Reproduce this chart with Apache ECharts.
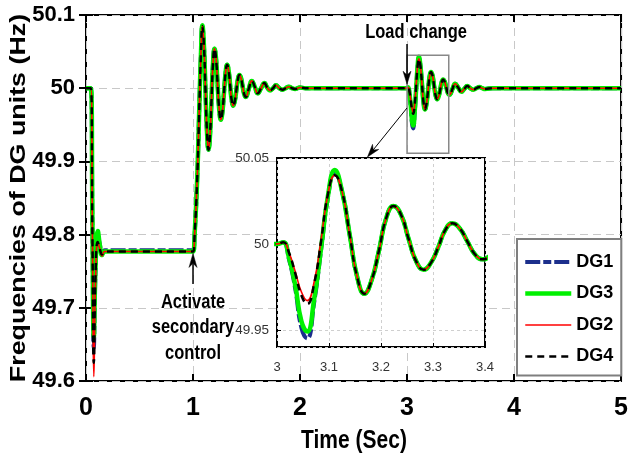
<!DOCTYPE html>
<html><head><meta charset="utf-8">
<script src="https://cdn.jsdelivr.net/npm/echarts@6/dist/echarts.min.js"></script>
<style>html,body{margin:0;padding:0;background:#fff}#c{width:631px;height:459px}</style>
</head><body><div id="c"></div>
<script>
// ---- data ----
const time = [0, 0.045, 0.06, 0.073, 0.09, 0.11, 0.13, 0.15, 0.175, 0.3,
  1.0, 1.015, 1.04, 1.06, 1.075, 1.087, 1.1015, 1.116, 1.1305, 1.145,
  1.159, 1.173, 1.187, 1.201, 1.2155, 1.23, 1.245, 1.26, 1.275, 1.29,
  1.3045, 1.319, 1.333, 1.347, 1.361, 1.375, 1.39, 1.405, 1.4195, 1.434,
  1.4485, 1.463, 1.478, 1.493,
  1.521, 1.549, 1.577, 1.605, 1.636, 1.667, 1.693, 1.72, 1.748, 1.775,
  1.806, 1.837, 1.866, 1.895, 1.925, 1.955, 2.0, 2.05, 2.1,
  3.0, 3.012, 3.023, 3.035, 3.047, 3.058, 3.0715, 3.085, 3.098, 3.111,
  3.1255, 3.14, 3.154, 3.168, 3.182, 3.196, 3.21, 3.224, 3.2385, 3.253,
  3.2675, 3.282, 3.296, 3.31, 3.3235, 3.337, 3.3515, 3.366, 3.3805, 3.395,
  3.409, 3.423, 3.45, 3.479, 3.508, 3.535, 3.563, 3.591, 3.62, 3.648,
  3.676, 3.703, 3.73, 3.8, 5.0];

const dg1 = [50.0, 50.0, 49.81, 49.645, 49.755, 49.80, 49.786, 49.776, 49.7785, 49.7785,
  49.7785, 49.80, 49.88, 49.98, 50.05, 50.085, 50.060, 50.0, 49.941, 49.916,
  49.936, 49.985, 50.034, 50.054, 50.040, 50.005, 49.971, 49.957, 49.968, 49.995,
  50.021, 50.032, 50.024, 50.004, 49.984, 49.976, 49.982, 49.997, 50.012, 50.018,
  50.014, 50.003, 49.992, 49.988,
  49.999, 50.010, 50.002, 49.993, 50.0, 50.007, 50.001, 49.997, 50.0, 50.004,
  50.0, 49.998, 50.0, 50.002, 50.0, 49.999, 50.001, 50.0, 50.0,
  50.0, 50.001, 49.991, 49.974, 49.951, 49.945, 49.966, 49.997, 50.027, 50.042,
  50.030, 50.005, 49.981, 49.971, 49.979, 49.996, 50.015, 50.022, 50.017, 50.003,
  49.990, 49.985, 49.989, 49.998, 50.008, 50.012, 50.009, 50.0015, 49.994, 49.991,
  49.993, 49.9985, 50.006, 50.0005, 49.995, 49.999, 50.003, 50.0, 49.998, 50.0,
  50.0015, 50.0, 49.999, 50.0, 50.0];

const dg3 = [50.0, 50.0, 49.82, 49.66, 49.76, 49.805, 49.785, 49.772, 49.777, 49.777,
  49.777, 49.80, 49.88, 49.98, 50.05, 50.086, 50.060, 50.0, 49.941, 49.916,
  49.936, 49.985, 50.034, 50.054, 50.040, 50.005, 49.971, 49.957, 49.968, 49.995,
  50.021, 50.032, 50.024, 50.004, 49.984, 49.976, 49.982, 49.997, 50.012, 50.018,
  50.014, 50.003, 49.992, 49.988,
  49.999, 50.010, 50.002, 49.993, 50.0, 50.007, 50.001, 49.997, 50.0, 50.004,
  50.0, 49.998, 50.0, 50.002, 50.0, 49.999, 50.001, 50.0, 50.0,
  50.0, 50.001, 49.992, 49.976, 49.955, 49.949, 49.968, 49.998, 50.028, 50.043,
  50.030, 50.005, 49.981, 49.971, 49.979, 49.996, 50.015, 50.022, 50.017, 50.003,
  49.990, 49.985, 49.989, 49.998, 50.008, 50.012, 50.009, 50.0015, 49.994, 49.991,
  49.993, 49.9985, 50.006, 50.0005, 49.995, 49.999, 50.003, 50.0, 49.998, 50.0,
  50.0015, 50.0, 49.999, 50.0, 50.0];

const dg2 = [50.0, 50.0, 49.80, 49.606, 49.74, 49.79, 49.78, 49.771, 49.777, 49.777,
  49.777, 49.80, 49.88, 49.98, 50.05, 50.085, 50.060, 50.0, 49.941, 49.916,
  49.936, 49.985, 50.034, 50.054, 50.040, 50.005, 49.971, 49.957, 49.968, 49.995,
  50.021, 50.032, 50.024, 50.004, 49.984, 49.976, 49.982, 49.997, 50.012, 50.018,
  50.014, 50.003, 49.992, 49.988,
  49.999, 50.010, 50.002, 49.993, 50.0, 50.007, 50.001, 49.997, 50.0, 50.004,
  50.0, 49.998, 50.0, 50.002, 50.0, 49.999, 50.001, 50.0, 50.0,
  50.0, 50.001, 49.995, 49.984, 49.972, 49.967, 49.978, 50.003, 50.029, 50.040,
  50.030, 50.005, 49.981, 49.971, 49.979, 49.996, 50.015, 50.022, 50.017, 50.003,
  49.990, 49.985, 49.989, 49.998, 50.008, 50.012, 50.009, 50.0015, 49.994, 49.991,
  49.993, 49.9985, 50.006, 50.0005, 49.995, 49.999, 50.003, 50.0, 49.998, 50.0,
  50.0015, 50.0, 49.999, 50.0, 50.0];

const dg4 = [50.0, 50.0, 49.80, 49.625, 49.75, 49.79, 49.78, 49.773, 49.777, 49.777,
  49.777, 49.80, 49.88, 49.98, 50.05, 50.085, 50.060, 50.0, 49.941, 49.916,
  49.936, 49.985, 50.034, 50.054, 50.040, 50.005, 49.971, 49.957, 49.968, 49.995,
  50.021, 50.032, 50.024, 50.004, 49.984, 49.976, 49.982, 49.997, 50.012, 50.018,
  50.014, 50.003, 49.992, 49.988,
  49.999, 50.010, 50.002, 49.993, 50.0, 50.007, 50.001, 49.997, 50.0, 50.004,
  50.0, 49.998, 50.0, 50.002, 50.0, 49.999, 50.001, 50.0, 50.0,
  50.0, 50.001, 49.995, 49.983, 49.970, 49.965, 49.977, 50.002, 50.029, 50.040,
  50.030, 50.005, 49.981, 49.971, 49.979, 49.996, 50.015, 50.022, 50.017, 50.003,
  49.990, 49.985, 49.989, 49.998, 50.008, 50.012, 50.009, 50.0015, 49.994, 49.991,
  49.993, 49.9985, 50.006, 50.0005, 49.995, 49.999, 50.003, 50.0, 49.998, 50.0,
  50.0015, 50.0, 49.999, 50.0, 50.0];

const seriesNames = ['DG1', 'DG3', 'DG2', 'DG4'];
const seriesValues = [dg1, dg3, dg2, dg4];

// ---- styles ----
const FONT = '"Liberation Sans", Arial, sans-serif';
const lineStyles = [
  { color: '#1c2f8c', width: 4, type: [15, 3, 8, 3] },
  { color: '#00f000', width: 4.5, type: 'solid' },
  { color: '#ff0000', width: 1.6, type: 'solid' },
  { color: '#000000', width: 2.5, type: [7, 5] }
];

const pairs = arr => time.map((t, i) => [t, arr[i]]);

const series = [];
seriesNames.forEach((n, i) => {
  series.push({ name: n, type: 'line', xAxisIndex: 0, yAxisIndex: 0, data: pairs(seriesValues[i]),
    showSymbol: false, symbol: 'none', smooth: 0.5, lineStyle: lineStyles[i], color: lineStyles[i].color,
    z: 2, animation: false });
});
seriesNames.forEach((n, i) => {
  series.push({ name: n, type: 'line', xAxisIndex: 1, yAxisIndex: 1, data: pairs(seriesValues[i]),
    showSymbol: false, symbol: 'none', smooth: 0.5, lineStyle: lineStyles[i], color: lineStyles[i].color,
    z: 5, clip: true, animation: false });
});

const mainSplit = { show: true, lineStyle: { color: '#c8c8c8', width: 1, type: [8, 5] } };
const insetSplit = { show: true, lineStyle: { color: '#cfcfcf', width: 1, type: [3, 3] } };
const mainTick = { show: true, inside: true, length: 7, lineStyle: { color: '#000', width: 2 } };
const insetTick = { show: true, inside: true, length: 4, lineStyle: { color: '#000', width: 1 } };

const option = {
  animation: false,
  backgroundColor: '#fff',
  grid: [
    { left: 86, top: 15, width: 537, height: 366, show: true, borderColor: '#000', borderWidth: 2, backgroundColor: 'transparent' },
    { left: 277, top: 158, width: 208, height: 189, show: true, borderColor: '#000', borderWidth: 2, backgroundColor: '#fff', z: 3 }
  ],
  xAxis: [
    { type: 'value', gridIndex: 0, min: 0, max: 5, interval: 1, axisLine: { show: false }, axisTick: mainTick,
      axisLabel: { fontFamily: FONT, fontWeight: 'bold', fontSize: 25, color: '#000', margin: 15 }, splitLine: mainSplit },
    { type: 'value', gridIndex: 1, min: 3, max: 3.4, interval: 0.1, axisLine: { show: false }, axisTick: insetTick,
      axisLabel: { fontFamily: FONT, fontSize: 13, color: '#333', margin: 14 }, splitLine: insetSplit, z: 4 },
    { type: 'value', gridIndex: 0, position: 'top', min: 0, max: 5, interval: 1, axisLine: { show: false }, axisTick: mainTick,
      axisLabel: { show: false }, splitLine: { show: false } }
  ],
  yAxis: [
    { type: 'value', gridIndex: 0, min: 49.6, max: 50.1, interval: 0.1, axisLine: { show: false }, axisTick: mainTick,
      axisLabel: { fontFamily: FONT, fontWeight: 'bold', fontSize: 22, color: '#000', margin: 11 }, splitLine: mainSplit },
    { type: 'value', gridIndex: 1, min: 49.94, max: 50.05, splitNumber: 2, axisLine: { show: false }, axisTick: insetTick,
      axisLabel: { fontFamily: FONT, fontSize: 13.5, color: '#333', margin: 8, showMinLabel: false }, splitLine: insetSplit, z: 4 },
    { type: 'value', gridIndex: 0, position: 'right', min: 49.6, max: 50.1, interval: 0.1, axisLine: { show: false }, axisTick: mainTick,
      axisLabel: { show: false }, splitLine: { show: false } }
  ],
  legend: {
    data: seriesNames, orient: 'vertical', left: 517, top: 239,
    itemWidth: 46, itemHeight: 14, itemGap: 9.5, padding: [12, 8, 8, 6],
    backgroundColor: '#fff', borderColor: '#7f7f7f', borderWidth: 2,
    textStyle: { fontFamily: FONT, fontWeight: 'bold', fontSize: 18, color: '#000', lineHeight: 22 },
    lineStyle: { width: 'inherit' }, itemStyle: { opacity: 0, borderWidth: 0 }, selectedMode: false
  },
  series: series
};

const chart = echarts.init(document.getElementById('c'), null, { renderer: 'canvas' });
chart.setOption(option);

// ---- annotations anchored to data coordinates ----
const P0 = (x, y) => chart.convertToPixel({ gridIndex: 0 }, [x, y]);
const P1 = (x, y) => chart.convertToPixel({ gridIndex: 1 }, [x, y]);

function arrow(x1, y1, x2, y2, lw, hl, hw) {
  const dx = x2 - x1, dy = y2 - y1, L = Math.sqrt(dx * dx + dy * dy);
  const ux = dx / L, uy = dy / L, px = -uy, py = ux;
  const bx = x2 - ux * hl, by = y2 - uy * hl;
  const nx = x2 - ux * hl * 0.7, ny = y2 - uy * hl * 0.7;
  return [
    { type: 'line', z: 20, shape: { x1: x1, y1: y1, x2: nx, y2: ny }, style: { stroke: '#000', lineWidth: lw } },
    { type: 'polygon', z: 20, shape: { points: [[x2, y2], [bx + px * hw / 2, by + py * hw / 2], [nx, ny], [bx - px * hw / 2, by - py * hw / 2]] },
      style: { fill: '#000', stroke: '#000', lineWidth: 0.5 } }
  ];
}

const gfx = [];
// axis titles
gfx.push({ type: 'text', x: 19, y: 198, rotation: Math.PI / 2, scaleX: 1.22, z: 20,
  style: { text: 'Frequencies of DG units (Hz)', font: 'bold 22px ' + FONT, fill: '#000', align: 'center', verticalAlign: 'middle' } });
gfx.push({ type: 'text', x: 354, y: 441, scaleY: 1.2, z: 20,
  style: { text: 'Time (Sec)', font: 'bold 21px ' + FONT, fill: '#000', align: 'center', verticalAlign: 'middle' } });

// Load change
const lc = P0(3.0, 50.0);
gfx.push({ type: 'text', x: lc[0] + 9, y: 33, scaleY: 1.2, z: 20,
  style: { text: 'Load change', font: 'bold 16.5px ' + FONT, fill: '#000', align: 'center', verticalAlign: 'middle' } });
arrow(lc[0], 44, lc[0], lc[1] - 4, 1.5, 13, 8).forEach(e => gfx.push(e));

// zoom rectangle
const r1 = P0(3.0, 50.045), r2 = P0(3.39, 49.911);
gfx.push({ type: 'rect', z: 19, shape: { x: r1[0], y: r1[1], width: r2[0] - r1[0], height: r2[1] - r1[1] },
  style: { fill: 'none', stroke: '#888', lineWidth: 1.5 } });
// pointer to inset
const a1 = P0(3.0, 49.973), a2 = P1(3.174, 50.05);
arrow(a1[0], a1[1], a2[0], a2[1] - 1, 1, 13, 8).forEach(e => gfx.push(e));

// Activate secondary control
const ac = P0(1.0, 49.777);
gfx.push({ type: 'text', x: ac[0], y: 328, scaleY: 1.2, z: 20,
  style: { text: 'Activate\nsecondary\ncontrol', font: 'bold 16.5px ' + FONT, lineHeight: 21, fill: '#000', align: 'center', verticalAlign: 'middle' } });
arrow(ac[0], 284, ac[0], ac[1] + 2, 1.5, 14, 8).forEach(e => gfx.push(e));

chart.setOption({ graphic: gfx });
</script>
</body></html>
